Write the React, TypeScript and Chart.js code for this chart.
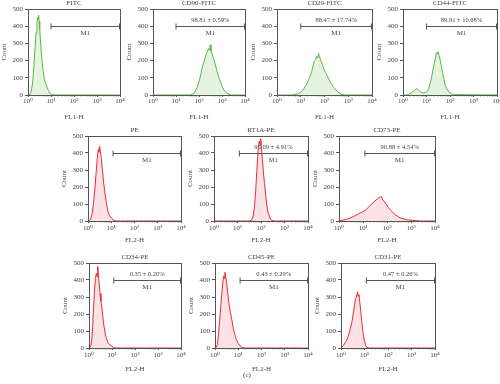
import React, { useEffect, useRef } from "react";
import { Chart, registerables } from "chart.js";
Chart.register(...registerables);

// ---- data (x positions are log10 of FL intensity, y are event counts) ----
const X_TICK_VALUES = [1, 10, 100, 1000, 10000];
const Y_TICK_STEP = 100;
const Y_MAX = 500;
const GATE_LEVEL = 400;

const FITC_E = [0, 0.08, 0.14, 0.2, 0.26, 0.31, 0.35, 0.39, 0.42, 0.44, 0.46, 0.48, 0.51, 0.55, 0.6, 0.65, 0.7, 0.76, 0.83, 0.9, 0.97, 1.05, 1.2, 4];
const FITC_Y = [0, 3, 20, 70, 170, 280, 360, 420, 450, 440, 465, 430, 380, 300, 215, 150, 100, 70, 45, 22, 8, 2, 0, 0];

const CD90_E = [0, 1.6, 1.7, 1.78, 1.85, 1.92, 2.0, 2.07, 2.14, 2.2, 2.26, 2.32, 2.37, 2.42, 2.46, 2.49, 2.52, 2.56, 2.6, 2.65, 2.7, 2.76, 2.82, 2.88, 2.95, 3.02, 3.1, 3.2, 3.3, 3.4, 4];
const CD90_Y = [0, 0, 3, 10, 25, 45, 75, 115, 160, 185, 215, 240, 255, 270, 262, 292, 255, 245, 225, 205, 180, 150, 120, 95, 70, 45, 25, 12, 5, 0, 0];

const CD29_E = [0, 0.6, 0.75, 0.9, 1.02, 1.12, 1.23, 1.33, 1.44, 1.5, 1.56, 1.62, 1.67, 1.72, 1.75, 1.78, 1.82, 1.87, 1.92, 1.98, 2.05, 2.12, 2.2, 2.28, 2.38, 2.49, 2.6, 2.72, 2.85, 4];
const CD29_Y = [0, 0, 3, 8, 18, 35, 57, 90, 125, 160, 195, 205, 225, 215, 242, 225, 210, 195, 170, 150, 130, 110, 88, 66, 45, 27, 14, 4, 0, 0];

const CD44_E = [0, 0.15, 0.25, 0.35, 0.45, 0.53, 0.59, 0.65, 0.72, 0.8, 0.88, 0.96, 1.04, 1.1, 1.16, 1.22, 1.28, 1.33, 1.38, 1.42, 1.46, 1.5, 1.54, 1.58, 1.63, 1.68, 1.74, 1.8, 1.87, 1.95, 2.05, 2.15, 4];
const CD44_Y = [0, 0, 4, 12, 22, 32, 37, 30, 20, 14, 12, 15, 22, 40, 70, 105, 150, 185, 215, 245, 238, 252, 225, 205, 170, 130, 90, 55, 35, 18, 8, 2, 0];

const PE_E = [0, 0.05, 0.12, 0.18, 0.24, 0.3, 0.35, 0.4, 0.44, 0.47, 0.5, 0.53, 0.57, 0.62, 0.67, 0.72, 0.78, 0.84, 0.9, 0.96, 1.02, 1.1, 1.2, 4];
const PE_Y = [0, 2, 12, 45, 110, 195, 285, 370, 420, 405, 440, 410, 370, 300, 230, 175, 115, 65, 38, 25, 15, 6, 0, 0];

const RT1A_E = [0, 1.5, 1.6, 1.66, 1.72, 1.77, 1.82, 1.86, 1.9, 1.93, 1.96, 1.99, 2.02, 2.06, 2.1, 2.15, 2.2, 2.25, 2.3, 2.36, 2.43, 2.52, 4];
const RT1A_Y = [0, 0, 5, 25, 80, 170, 290, 380, 450, 470, 445, 484, 430, 360, 290, 220, 150, 90, 50, 25, 8, 0, 0];

const CD73_E = [0, 0.05, 0.2, 0.35, 0.5, 0.65, 0.8, 0.92, 1.02, 1.12, 1.22, 1.32, 1.42, 1.5, 1.58, 1.64, 1.69, 1.72, 1.76, 1.82, 1.9, 1.98, 2.06, 2.16, 2.26, 2.36, 2.48, 2.6, 2.75, 2.9, 3.05, 3.2, 3.38, 4];
const CD73_Y = [0, 2, 6, 12, 20, 30, 42, 50, 56, 65, 80, 95, 108, 118, 128, 135, 142, 138, 144, 125, 112, 95, 78, 62, 48, 36, 24, 16, 10, 6, 4, 2, 0, 0];

const CD34_E = [0, 0.04, 0.08, 0.12, 0.16, 0.2, 0.24, 0.28, 0.32, 0.35, 0.38, 0.41, 0.44, 0.48, 0.52, 0.56, 0.6, 0.65, 0.7, 0.76, 0.82, 0.9, 0.98, 1.06, 1.15, 4];
const CD34_Y = [0, 3, 15, 50, 130, 240, 340, 410, 440, 420, 480, 430, 380, 320, 275, 240, 185, 130, 88, 55, 32, 20, 12, 3, 0, 0];

const CD45_E = [0, 0.05, 0.1, 0.15, 0.2, 0.25, 0.3, 0.34, 0.38, 0.41, 0.43, 0.46, 0.5, 0.55, 0.6, 0.66, 0.72, 0.78, 0.85, 0.92, 1.0, 1.08, 1.16, 1.25, 4];
const CD45_Y = [0, 3, 20, 80, 160, 250, 330, 390, 425, 410, 445, 420, 380, 320, 260, 210, 170, 120, 80, 50, 27, 12, 4, 0, 0];

const CD31_E = [0, 0.03, 0.1, 0.17, 0.24, 0.31, 0.38, 0.46, 0.52, 0.57, 0.62, 0.66, 0.7, 0.73, 0.76, 0.8, 0.84, 0.88, 0.92, 0.96, 1.0, 1.05, 1.1, 1.2, 4];
const CD31_Y = [0, 5, 15, 30, 45, 70, 105, 150, 200, 250, 290, 300, 330, 305, 315, 270, 215, 160, 110, 70, 40, 15, 4, 0, 0];

const TITLES = ["FITC", "CD90-FITC", "CD29-FITC", "CD44-FITC", "PE", "RT1A-PE", "CD73-PE", "CD34-PE", "CD45-PE", "CD31-PE"];
const PERCENTS = ["", "98.81 ± 0.59%", "88.47 ± 17.74%", "89.91 ± 10.68%", "", "95.09 ± 4.91%", "90.88 ± 4.54%", "0.35 ± 0.20%", "0.43 ± 0.29%", "0.47 ± 0.26%"];
const GATE_STARTS = [10, 10, 10, 10, 12, 12, 12, 12, 12, 12];
const X_TITLES = ["FL1-H", "FL1-H", "FL1-H", "FL1-H", "FL2-H", "FL2-H", "FL2-H", "FL2-H", "FL2-H", "FL2-H"];
const SERIES_E = [FITC_E, CD90_E, CD29_E, CD44_E, PE_E, RT1A_E, CD73_E, CD34_E, CD45_E, CD31_E];
const SERIES_Y = [FITC_Y, CD90_Y, CD29_Y, CD44_Y, PE_Y, RT1A_Y, CD73_Y, CD34_Y, CD45_Y, CD31_Y];

// ---- layout (plot-area boxes in page pixels) ----
const BOXES = [
  { L: 28, T: 9, R: 120, B: 95, xPad: 0, xt: 22 },
  { L: 153, T: 9, R: 245, B: 95, xPad: 0, xt: 22 },
  { L: 277, T: 9, R: 372, B: 95, xPad: 0, xt: 22 },
  { L: 403, T: 9, R: 497, B: 95, xPad: 0, xt: 22 },
  { L: 88, T: 136, R: 181, B: 221, xPad: 1, xt: 19 },
  { L: 214, T: 136, R: 308, B: 221, xPad: 1, xt: 19 },
  { L: 339, T: 136, R: 435, B: 221, xPad: 1, xt: 19 },
  { L: 89, T: 263, R: 181, B: 348, xPad: 1, xt: 21 },
  { L: 215, T: 263, R: 308, B: 348, xPad: 1, xt: 21 },
  { L: 341, T: 263, R: 435, B: 348, xPad: 1, xt: 21 },
];

const FONT = '"Liberation Serif", "DejaVu Serif", serif';
const TEXT = "#444";
const AXIS = "#555";
const SUP = ["⁰", "¹", "²", "³", "⁴"];
const PADL = 30, PADT = 12, PADR = 8, PADB = 28;

function Panel({ idx }: { idx: number }) {
  const ref = useRef<HTMLCanvasElement | null>(null);
  const b = BOXES[idx];
  const w = b.R - b.L + PADL + PADR;
  const h = b.B - b.T + PADT + PADB;
  const green = idx < 4;
  useEffect(() => {
    const E = SERIES_E[idx];
    const Y = SERIES_Y[idx];
    const pts = E.map((e, i) => ({ x: Math.pow(10, e), y: Y[i] }));
    const overlay = {
      id: "overlay" + idx,
      afterDraw(chart: any) {
        const { ctx, chartArea, scales } = chart;
        const { left, top, right, bottom } = chartArea;
        const xs = scales.x, ys = scales.y;
        ctx.save();
        ctx.strokeStyle = AXIS;
        ctx.lineWidth = 1;
        ctx.strokeRect(Math.round(left) + 0.5, Math.round(top) + 0.5, Math.round(right - left), Math.round(bottom - top));
        // minor log ticks
        ctx.lineWidth = 0.6;
        for (let n = 0; n < 4; n++) {
          for (let k = 2; k < 10; k++) {
            const px = xs.getPixelForValue(k * Math.pow(10, n));
            ctx.beginPath();
            ctx.moveTo(px, bottom);
            ctx.lineTo(px, bottom + 1.5);
            ctx.stroke();
          }
        }
        // gate M1
        const x1 = xs.getPixelForValue(GATE_STARTS[idx]);
        const x2 = xs.getPixelForValue(X_TICK_VALUES[X_TICK_VALUES.length - 1]) - 0.5;
        const gy = Math.round(ys.getPixelForValue(GATE_LEVEL)) + 0.5;
        ctx.lineWidth = 1;
        ctx.strokeStyle = "#555";
        ctx.beginPath();
        ctx.moveTo(x1, gy); ctx.lineTo(x2, gy);
        ctx.moveTo(x1, gy - 3); ctx.lineTo(x1, gy + 3);
        ctx.moveTo(x2, gy - 3); ctx.lineTo(x2, gy + 3);
        ctx.stroke();
        ctx.fillStyle = TEXT;
        ctx.textAlign = "center";
        ctx.textBaseline = "middle";
        ctx.font = "7px " + FONT;
        ctx.fillText("M1", (x1 + x2) / 2, gy + 6.5);
        if (PERCENTS[idx]) {
          ctx.font = "6.5px " + FONT;
          ctx.fillText(PERCENTS[idx], (x1 + x2) / 2, gy - 6);
        }
        // titles
        ctx.font = "7px " + FONT;
        ctx.fillText(TITLES[idx], (left + right) / 2, top - 6);
        ctx.fillText(X_TITLES[idx], (left + right) / 2, bottom + b.xt);
        ctx.save();
        ctx.translate(left - 24, (top + bottom) / 2);
        ctx.rotate(-Math.PI / 2);
        ctx.fillText("Count", 0, 0);
        ctx.restore();
        ctx.restore();
      },
    };
    const chart = new Chart(ref.current as HTMLCanvasElement, {
      type: "line",
      data: {
        datasets: [
          {
            data: pts,
            borderColor: green ? "#55b844" : "#ec2a33",
            backgroundColor: green ? "rgba(140,205,110,0.22)" : "rgba(240,110,120,0.2)",
            borderWidth: 1,
            pointRadius: 0,
            fill: "origin",
            tension: 0,
          },
        ],
      },
      options: {
        responsive: false,
        devicePixelRatio: 1,
        animation: false,
        events: [],
        layout: { padding: { left: 0, top: PADT, right: PADR, bottom: 0 } },
        plugins: { legend: { display: false }, tooltip: { enabled: false } },
        scales: {
          x: {
            type: "logarithmic",
            min: X_TICK_VALUES[0],
            max: X_TICK_VALUES[X_TICK_VALUES.length - 1],
            afterBuildTicks: (s: any) => {
              s.ticks = X_TICK_VALUES.map((v) => ({ value: v, major: true }));
            },
            afterFit: (s: any) => { s.height = PADB; },
            ticks: {
              autoSkip: false,
              maxRotation: 0,
              padding: b.xPad,
              color: TEXT,
              font: { family: FONT, size: 7 },
              callback: (v: any) => "10" + SUP[Math.round(Math.log10(Number(v)))],
            },
            grid: { drawOnChartArea: false, tickLength: 2, color: AXIS },
            border: { color: AXIS },
          },
          y: {
            min: 0,
            max: Y_MAX,
            afterFit: (s: any) => { s.width = PADL; },
            ticks: { stepSize: Y_TICK_STEP, padding: 2, color: TEXT, font: { family: FONT, size: 7 } },
            grid: { drawOnChartArea: false, tickLength: 3, color: AXIS },
            border: { color: AXIS },
          },
        },
      } as any,
      plugins: [overlay],
    });
    return () => chart.destroy();
  }, [idx]);
  return (
    <canvas
      ref={ref}
      width={w}
      height={h}
      style={{ position: "absolute", left: b.L - PADL, top: b.T - PADT, width: w, height: h }}
    />
  );
}

export default function App() {
  return (
    <div style={{ position: "absolute", left: 0, top: 0, width: 500, height: 384, background: "#fff", overflow: "hidden" }}>
      {TITLES.map((_, i) => (
        <Panel key={i} idx={i} />
      ))}
      <div style={{ position: "absolute", left: 237, top: 371, width: 20, textAlign: "center", font: "7px " + FONT, color: TEXT }}>(c)</div>
    </div>
  );
}
